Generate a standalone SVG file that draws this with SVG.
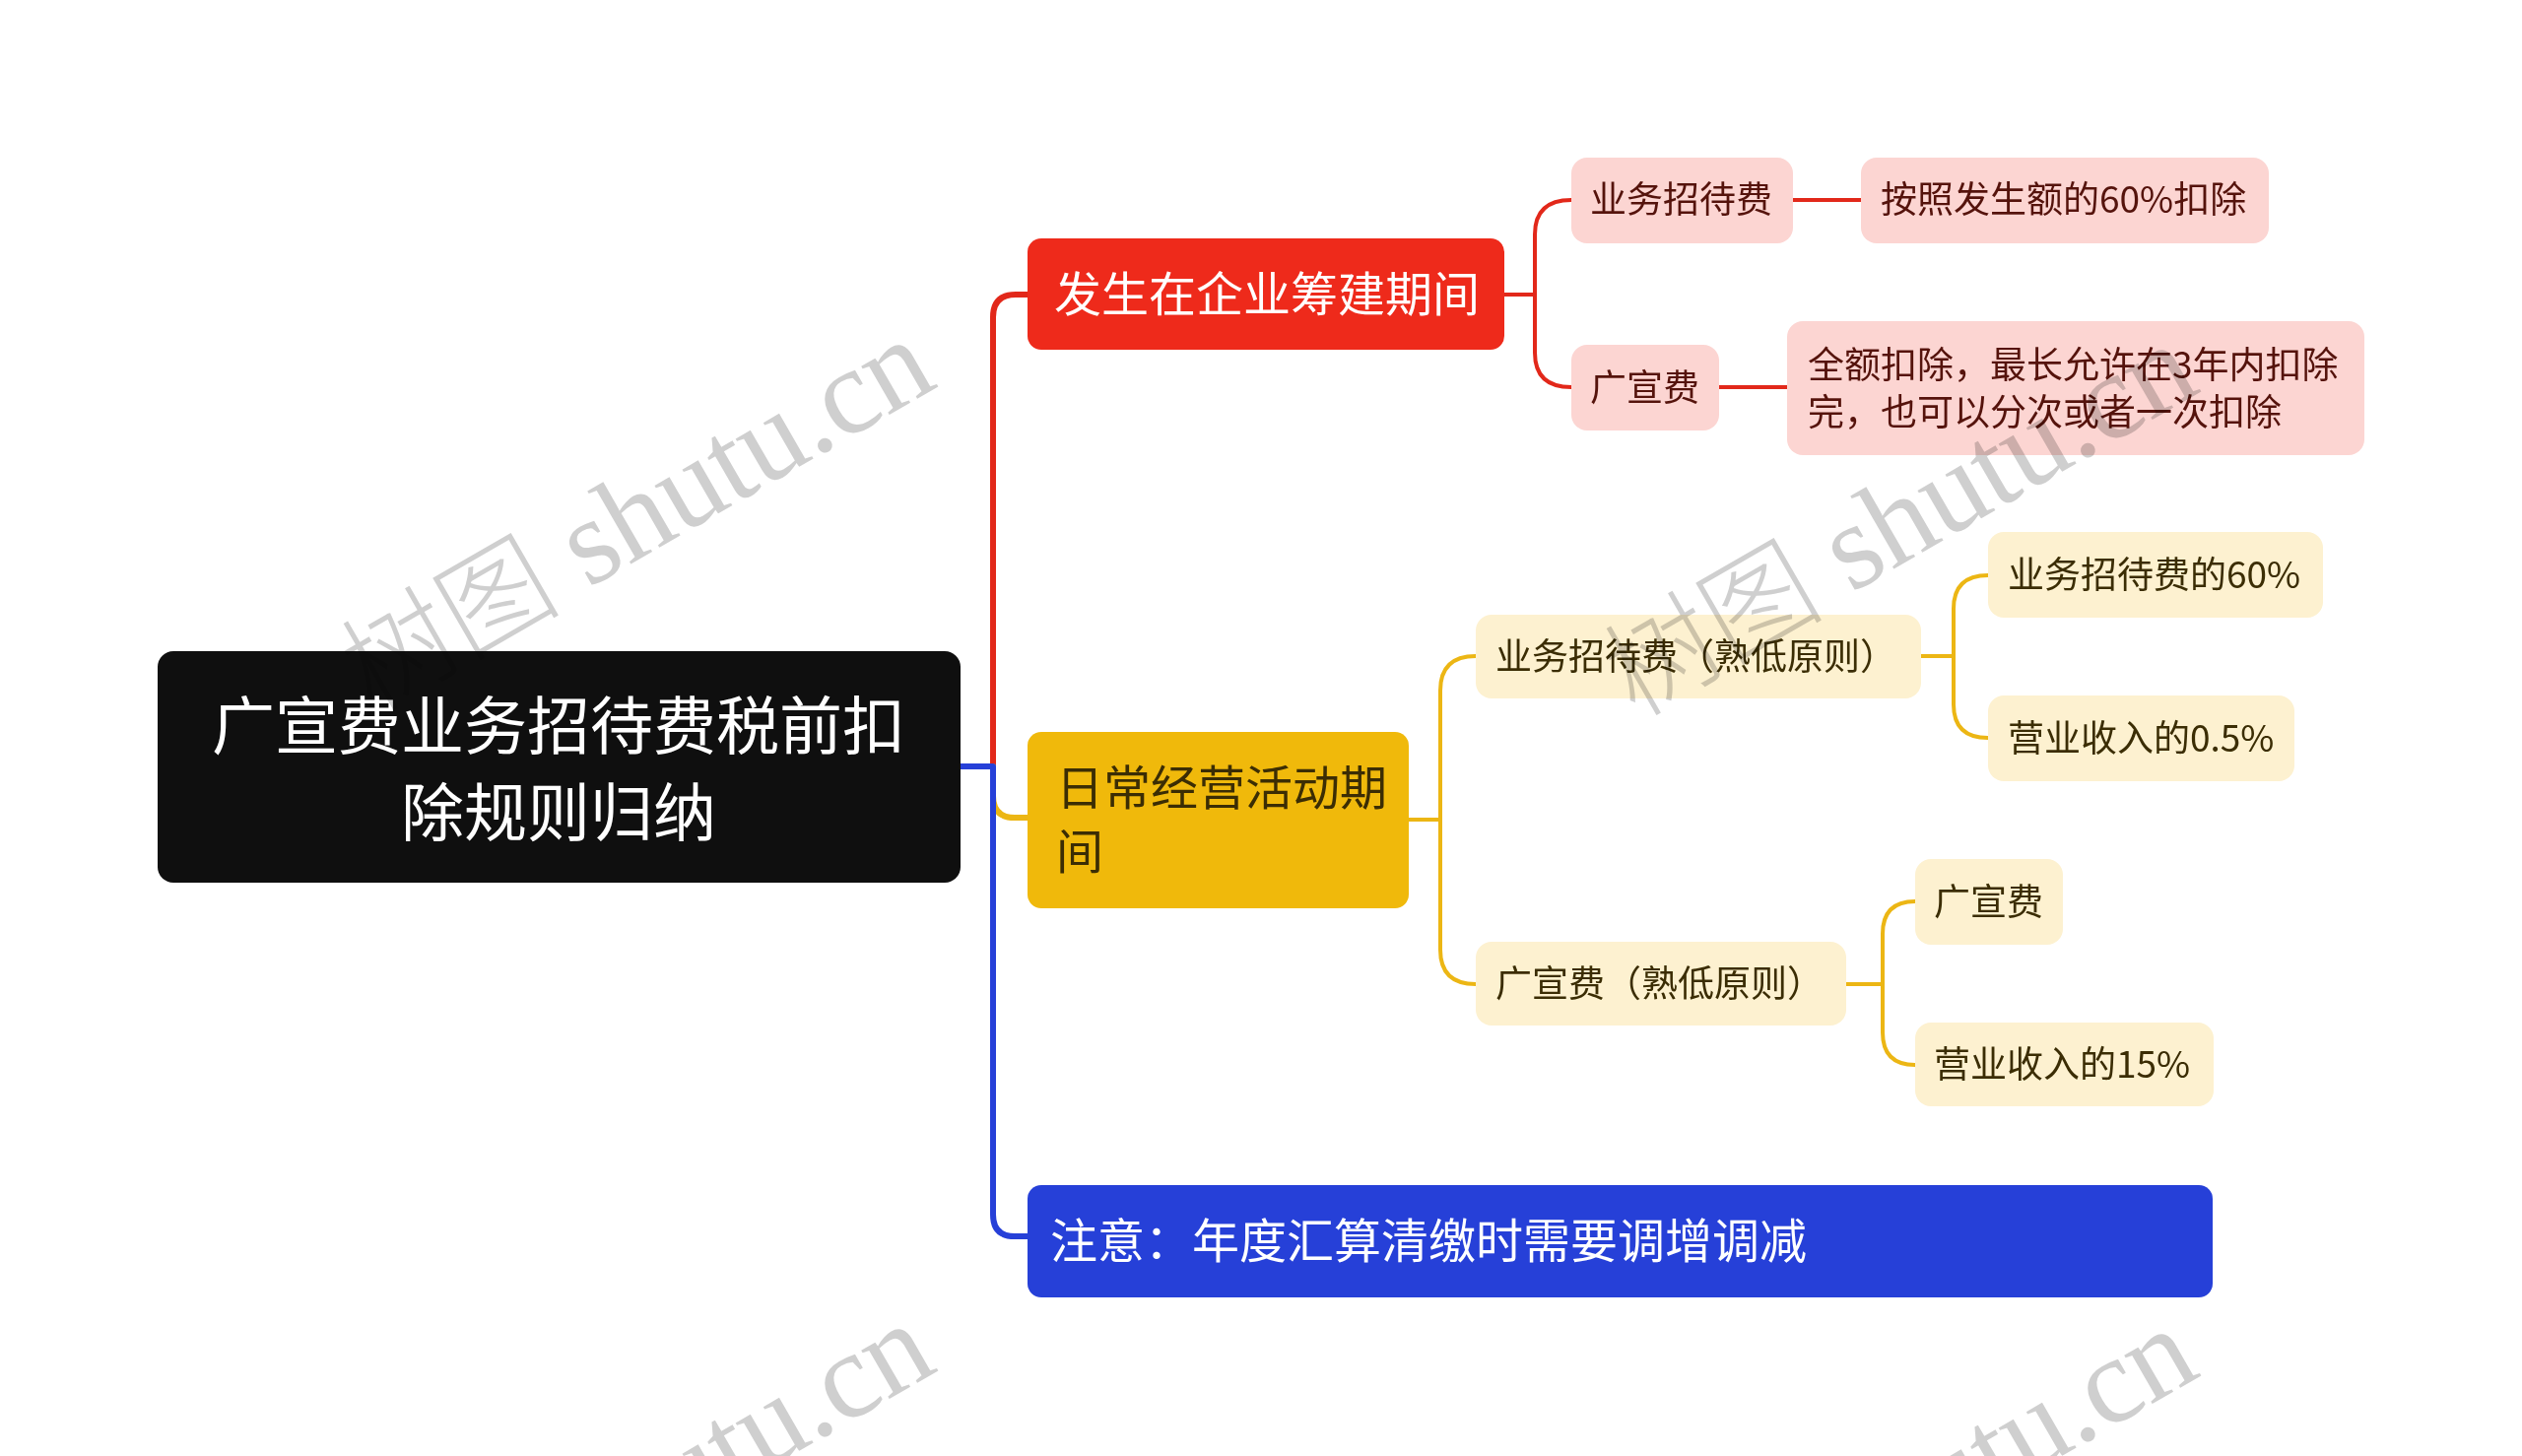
<svg xmlns="http://www.w3.org/2000/svg" width="2560" height="1478" viewBox="0 0 2560 1478">
<style>
.cjk{font-family:"Noto Sans CJK SC","Noto Sans",sans-serif}
.root{fill:#0f0f0f}
.red{fill:#ee2a1b}
.yel{fill:#f0b90b}
.blu{fill:#2640d8}
.pink{fill:#fcd5d2}
.cream{fill:#fdf1d0}
.wt{fill:#ffffff}
.ptxt{fill:#55130c;font-size:37px}
.ytxt{fill:#3b2d04;font-size:37px}
.main{fill:none;stroke-width:6;stroke-linecap:round;stroke-linejoin:round}
.sub{fill:none;stroke-width:4;stroke-linecap:round;stroke-linejoin:round}
.lr{stroke:#e2281a}
.ly{stroke:#ecb614}
.lb{stroke:#2640d8}
.wm{font-family:"Liberation Serif","Noto Sans CJK SC",serif;font-size:124px;fill:#cfcfcf;mix-blend-mode:multiply}
</style>
<defs>
<text id="wm" class="wm" x="0" y="0" textLength="665" lengthAdjust="spacing"><tspan font-family="Noto Sans CJK SC" font-weight="300" font-size="112">树图</tspan> shutu.cn</text>
</defs>
<rect width="2560" height="1478" fill="#ffffff"/>
<g id="connectors">
<path class="main lr" d="M975,778 H1008 V322 Q1008,299 1031,299 H1043"/>
<path class="main ly" d="M975,778 H1008 V808 Q1008,830 1030,830 H1043"/>
<path class="main lb" d="M975,778 H1008 V1233 Q1008,1255 1030,1255 H1043"/>
<path class="sub lr" d="M1527,299 H1558 V238 Q1558,203 1595,203"/>
<path class="sub lr" d="M1558,299 V358 Q1558,393 1595,393"/>
<path class="sub lr" d="M1820,203 H1889"/>
<path class="sub lr" d="M1745,393 H1814"/>
<path class="sub ly" d="M1430,832 H1462 V701 Q1462,666 1498,666"/>
<path class="sub ly" d="M1462,832 V964 Q1462,999 1498,999"/>
<path class="sub ly" d="M1950,666 H1983 V618 Q1983,584 2018,584"/>
<path class="sub ly" d="M1983,666 V715 Q1983,749 2018,749"/>
<path class="sub ly" d="M1874,999 H1911 V948 Q1911,915 1944,915"/>
<path class="sub ly" d="M1911,999 V1048 Q1911,1081 1944,1081"/>
</g>
<g id="n-root">
<rect class="root" x="160" y="661" width="815" height="235" rx="16"/>
<text class="cjk wt" x="567" y="760" font-size="64" text-anchor="middle">广宣费业务招待费税前扣</text>
<text class="cjk wt" x="567" y="848" font-size="64" text-anchor="middle">除规则归纳</text>
</g>
<g id="n-red">
<rect class="red" x="1043" y="242" width="484" height="113" rx="14"/>
<text class="cjk wt" x="1070" y="316" font-size="48">发生在企业筹建期间</text>
</g>
<g id="n-r1">
<rect class="pink" x="1595" y="160" width="225" height="87" rx="16"/>
<text class="cjk ptxt" x="1614" y="216">业务招待费</text>
</g>
<g id="n-r1a">
<rect class="pink" x="1889" y="160" width="414" height="87" rx="16"/>
<text class="cjk ptxt" x="1909" y="216">按照发生额的60%扣除</text>
</g>
<g id="n-r2">
<rect class="pink" x="1595" y="350" width="150" height="87" rx="16"/>
<text class="cjk ptxt" x="1614" y="407">广宣费</text>
</g>
<g id="n-r2a">
<rect class="pink" x="1814" y="326" width="586" height="136" rx="16"/>
<text class="cjk ptxt" x="1835" y="384">全额扣除，最长允许在3年内扣除</text>
<text class="cjk ptxt" x="1835" y="432">完，也可以分次或者一次扣除</text>
</g>
<g id="n-yellow">
<rect class="yel" x="1043" y="743" width="387" height="179" rx="14"/>
<text class="cjk" fill="#3b2d04" x="1072" y="817" font-size="48">日常经营活动期</text>
<text class="cjk" fill="#3b2d04" x="1072" y="882" font-size="48">间</text>
</g>
<g id="n-y1">
<rect class="cream" x="1498" y="624" width="452" height="85" rx="16"/>
<text class="cjk ytxt" x="1518" y="680">业务招待费（熟低原则）</text>
</g>
<g id="n-y1a">
<rect class="cream" x="2018" y="540" width="340" height="87" rx="16"/>
<text class="cjk ytxt" x="2038" y="597">业务招待费的60%</text>
</g>
<g id="n-y1b">
<rect class="cream" x="2018" y="706" width="311" height="87" rx="16"/>
<text class="cjk ytxt" x="2038" y="763">营业收入的0.5%</text>
</g>
<g id="n-y2">
<rect class="cream" x="1498" y="956" width="376" height="85" rx="16"/>
<text class="cjk ytxt" x="1518" y="1012">广宣费（熟低原则）</text>
</g>
<g id="n-y2a">
<rect class="cream" x="1944" y="872" width="150" height="87" rx="16"/>
<text class="cjk ytxt" x="1963" y="929">广宣费</text>
</g>
<g id="n-y2b">
<rect class="cream" x="1944" y="1038" width="303" height="85" rx="16"/>
<text class="cjk ytxt" x="1963" y="1094">营业收入的15%</text>
</g>
<g id="n-blue">
<rect class="blu" x="1043" y="1203" width="1203" height="114" rx="14"/>
<text class="cjk wt" x="1066" y="1277" font-size="48">注意：年度汇算清缴时需要调增调减</text>
</g>
<g id="watermark">
<use href="#wm" transform="translate(378,724) rotate(-30)"/>
<use href="#wm" transform="translate(1660,729) rotate(-30)"/>
<use href="#wm" transform="translate(378,1723) rotate(-30)"/>
<use href="#wm" transform="translate(1660,1728) rotate(-30)"/>
</g>
</svg>
